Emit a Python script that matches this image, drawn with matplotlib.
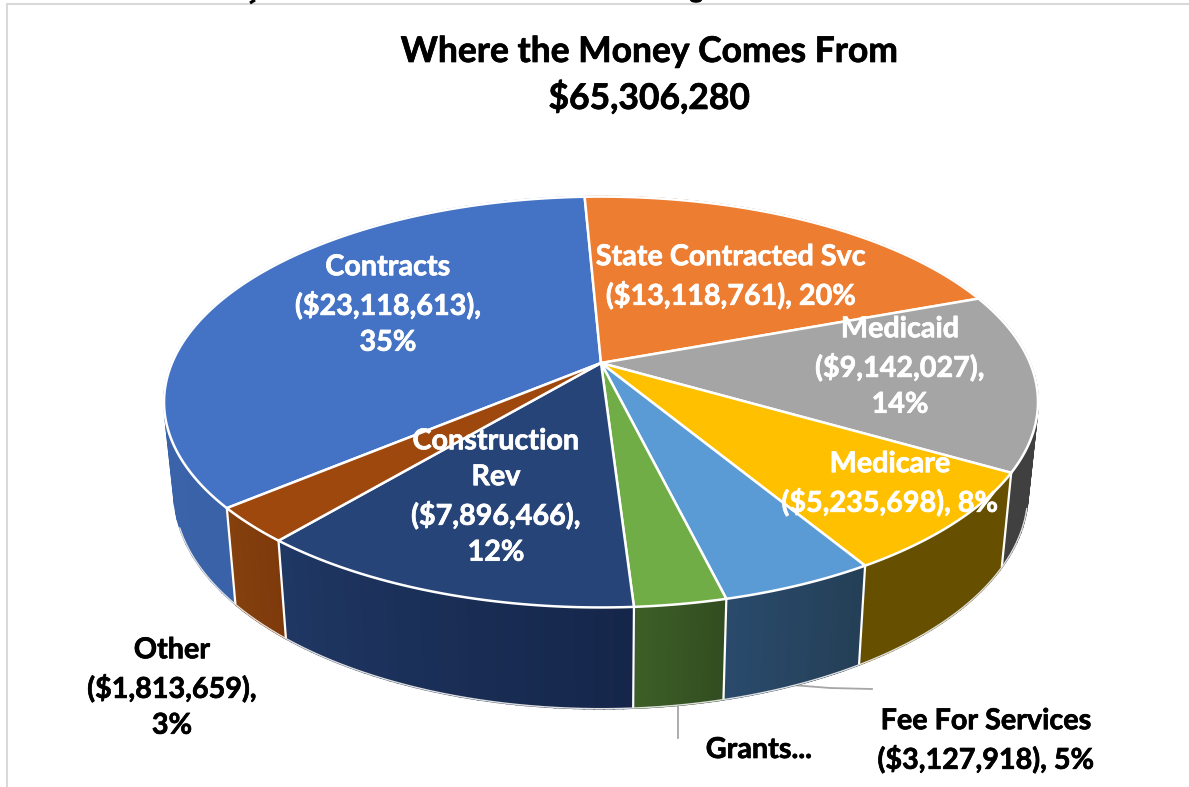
import numpy as np
import matplotlib
matplotlib.use("Agg")
import matplotlib.pyplot as plt
import matplotlib.patheffects as pe
from matplotlib.patches import Polygon, Ellipse

# ---- data ----
categories = ["Contracts", "State Contracted Svc", "Medicaid", "Medicare",
              "Fee For Services", "Grants", "Construction Rev", "Other"]
values = [23118613, 13118761, 9142027, 5235698, 3127918, 1853138, 7896466, 1813659]
title_lines = ["Where the Money Comes From", "$65,306,280"]
labels = ["Contracts\n($23,118,613),\n35%",
          "State Contracted Svc\n($13,118,761), 20%",
          "Medicaid\n($9,142,027),\n14%",
          "Medicare\n($5,235,698), 8%",
          "Fee For Services\n($3,127,918), 5%",
          "Grants...",
          "Construction\nRev\n($7,896,466),\n12%",
          "Other\n($1,813,659),\n3%"]

# ---- style ----
top_colors = ["#4472C4", "#ED7D31", "#A5A5A5", "#FFC000", "#5B9BD5", "#70AD47", "#264478", "#9E480E"]
wall_a = ["#3A62A8", "#8E4B1D", "#404040", "#665000", "#243F56", "#324D20", "#15264A", "#7F3A0C"]
wall_b = ["#3D67B0", "#8E4B1D", "#404040", "#665000", "#2A4A6C", "#3D5F27", "#1F3763", "#85400E"]
label_pos = [(388, 305), (731, 277), (900, 367), (890, 484), (986, 741), (759, 750), (496, 497), (172, 688)]
label_col = ["white", "white", "white", "white", "black", "black", "white", "black"]

W, H = 1189, 787
fig = plt.figure(figsize=(W / 100, H / 100), dpi=100, facecolor="white")
ax = fig.add_axes([0, 0, 1, 1])
ax.set_xlim(0, W)
ax.set_ylim(H, 0)
ax.axis("off")
plt.rcParams["font.family"] = ["Lato", "DejaVu Sans"]

# projection of the tilted disc
CX, CY, A, B, K = 601, 363, 429, 198, 0.19
CY2, SX, SY = 452, 0.977, 1.05


def top_xy(t):
    u, v = np.sin(t), np.cos(t)
    w = 1 / (1 + K * v)
    return CX + A * u * w, CY - B * v * w


def low_xy(t):
    x, y = top_xy(t)
    return CX + SX * (x - CX), CY2 + SY * (y - CY)


def mix(c1, c2, f):
    a = np.array(matplotlib.colors.to_rgb(c1))
    b = np.array(matplotlib.colors.to_rgb(c2))
    return tuple(a + (b - a) * f)


fractions = np.array(values, dtype=float) / np.sum(values)
start = np.deg2rad(-2.6) - 2 * np.pi * fractions[0]
edges = start + np.concatenate([[0], np.cumsum(fractions)]) * 2 * np.pi

# walls
for i in range(len(values)):
    ts = np.linspace(edges[i], edges[i + 1], 41)
    for j in range(40):
        x1, y1 = top_xy(ts[j:j + 2])
        x2, y2 = low_xy(ts[j:j + 2])
        pts = np.column_stack([np.r_[x1, x2[::-1]], np.r_[y1, y2[::-1]]])
        c = mix(wall_a[i], wall_b[i], j / 39)
        ax.add_patch(Polygon(pts, closed=True, fc=c, ec=c, lw=1.3, zorder=2))
for i in range(len(values)):
    x1, y1 = top_xy(edges[i])
    x2, y2 = low_xy(edges[i])
    ax.plot([x1, x2], [y1, y2], color="white", lw=1.6, zorder=3, solid_capstyle="butt")

# outer lower edge
tt = np.linspace(np.deg2rad(105), np.deg2rad(250), 300)
lx, ly = low_xy(tt)
ax.plot(lx, ly, color="#E0E0E0", lw=1.0, zorder=3)

# top faces
for i in range(len(values)):
    ts = np.linspace(edges[i], edges[i + 1], 120)
    x, y = top_xy(ts)
    pts = np.column_stack([np.r_[CX, x], np.r_[CY, y]])
    ax.add_patch(Polygon(pts, closed=True, fc=top_colors[i], ec="white", lw=1.8,
                         joinstyle="round", zorder=4))

# leader lines
ax.plot([678, 678], [705, 738], color="#A6A6A6", lw=1.3, zorder=1)
ax.plot([792, 830, 872], [685, 688, 689], color="#A6A6A6", lw=1.3, zorder=1)

# labels
stroke_w = [pe.withStroke(linewidth=0.5, foreground="white")]
stroke_k = [pe.withStroke(linewidth=0.5, foreground="black")]
for txt, (x, y), col in zip(labels, label_pos, label_col):
    ax.text(x, y, txt, ha="center", va="center", color=col, fontsize=20.7,
            fontweight="bold", linespacing=1.47, zorder=6,
            path_effects=stroke_w if col == "white" else stroke_k)

for line, y in zip(title_lines, (52, 98)):
    ax.text(649, y, line, ha="center", va="center", fontsize=25.5, fontweight="bold",
            color="black", zorder=6, path_effects=stroke_k)

# chart frame
ax.plot([7, 7], [3.5, H], color="#D9D9D9", lw=1.5, zorder=1)
ax.plot([7, W], [3.5, 3.5], color="#D9D9D9", lw=1.5, zorder=1)

# cut-off strokes of text above the frame
ax.plot([250, 255], [3, 0], color="black", lw=2.2, zorder=1, solid_capstyle="butt")
ax.add_patch(Ellipse((696, 0), 12, 5.5, fc="black", ec="none", zorder=1))

fig.savefig("out.png", dpi=100, facecolor="white")
